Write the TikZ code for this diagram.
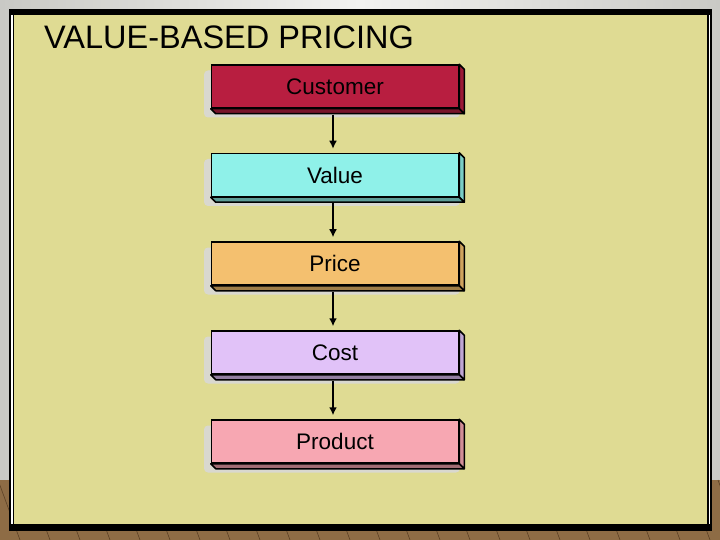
\documentclass[tikz,border=0pt]{standalone}
\usepackage{fontspec}
\setmainfont{Liberation Sans}
\usetikzlibrary{arrows.meta,calc}
\definecolor{wallgrey}{HTML}{C9C9C5}
\definecolor{wallwhite}{HTML}{F2F2F0}
\definecolor{wood}{HTML}{8E6C45}
\definecolor{woodline}{HTML}{5C4126}
\definecolor{panel}{HTML}{DFDB93}
\definecolor{shadowgrey}{HTML}{D9D8CF}
\definecolor{custred}{HTML}{B81E40}
\definecolor{valcyan}{HTML}{8FF1E9}
\definecolor{priorange}{HTML}{F4C06F}
\definecolor{costlilac}{HTML}{E1C2F8}
\definecolor{prodpink}{HTML}{F7A7B2}
\begin{document}
\begin{tikzpicture}[x=1pt,y=-1pt,
  box/.style={draw=black,line width=1.5pt,minimum width=247pt,minimum height=43pt,inner sep=0pt,font=\fontsize{22.5}{22.5}\selectfont},
  flow/.style={-{Latex[length=8pt,width=8pt]},line width=2pt}]
\useasboundingbox (0,0) rectangle (720,540);
\shade[left color=wallgrey,right color=wallgrey,middle color=wallwhite] (0,0) rectangle (720,480);
\fill[wood] (0,480) rectangle (720,540);
\foreach \X in {-40,-10,...,760}
  \draw[woodline,line width=0.6pt] (\X,540) -- (\X-22,480);
\fill[black] (9,9) rectangle (712,531);
\fill[white] (11,15) rectangle (710,524);
\fill[black] (12.5,15) rectangle (708.5,524);
\fill[panel] (14,15) rectangle (707,524);
\node[anchor=base west,inner sep=0pt] (title) at (44,49) {\fontsize{32.5}{32.5}\selectfont VALUE-BASED PRICING};
\foreach \Name/\Text/\Fill/\Y in {cust/Customer/custred/86.5, val/Value/valcyan/175, pri/Price/priorange/263.5, cost/Cost/costlilac/352.5, prod/Product/prodpink/441.5}
{
  \fill[shadowgrey,rounded corners=4pt] (204,\Y-16) rectangle (460,\Y+31);
  \node[box,fill=\Fill] (\Name) at (335,\Y) {\Text};
  \filldraw[line width=1.5pt,fill=\Fill!85!black,line join=round] (\Name.north east) -- ++(5,5) -- ($(\Name.south east)+(5,5)$) -- (\Name.south east) -- cycle;
  \filldraw[line width=1.5pt,fill=\Fill!65!black,line join=round] (\Name.south west) -- (\Name.south east) -- ($(\Name.south east)+(5,5)$) -- ($(\Name.south west)+(5,5)$) -- cycle;
}
\foreach \From/\To in {cust/val, val/pri, pri/cost, cost/prod}
  \draw[flow] ([shift={(-2,6)}]\From.south) -- ([shift={(-2,-4)}]\To.north);
\end{tikzpicture}
\end{document}
